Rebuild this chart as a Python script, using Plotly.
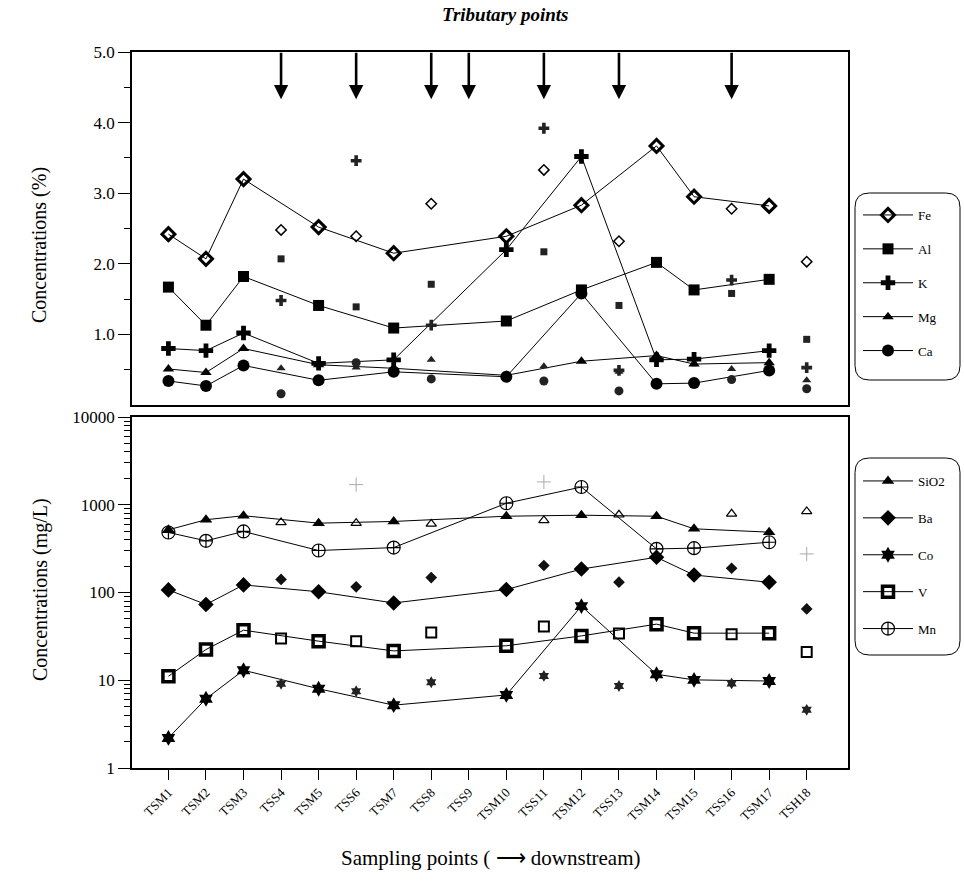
import plotly.graph_objects as go

# ---------------- data ----------------
categories = ["TSM1", "TSM2", "TSM3", "TSS4", "TSM5", "TSS6", "TSM7", "TSS8", "TSS9",
              "TSM10", "TSS11", "TSM12", "TSS13", "TSM14", "TSM15", "TSS16", "TSM17", "TSH18"]
main_points = ["TSM1", "TSM2", "TSM3", "TSM5", "TSM7", "TSM10", "TSM12", "TSM14", "TSM15", "TSM17"]
tributary_arrows = ["TSS4", "TSS6", "TSS8", "TSS9", "TSS11", "TSS13", "TSS16"]

# major elements (%)
Fe = [2.42, 2.07, 3.20, 2.48, 2.52, 2.39, 2.15, 2.85, None, 2.39, 3.33, 2.83, 2.32, 3.67, 2.95, 2.78, 2.82, 2.03]
Al = [1.67, 1.13, 1.82, 2.07, 1.41, 1.39, 1.09, 1.71, None, 1.19, 2.17, 1.63, 1.41, 2.02, 1.63, 1.58, 1.78, 0.93]
K = [0.80, 0.77, 1.02, 1.48, 0.59, 3.46, 0.64, 1.13, None, 2.20, 3.92, 3.52, 0.49, 0.64, 0.65, 1.77, 0.77, 0.53]
Mg = [0.51, 0.46, 0.80, 0.52, 0.57, 0.53, 0.52, 0.64, None, 0.42, 0.55, 0.62, 0.47, 0.70, 0.58, 0.51, 0.60, 0.35]
Ca = [0.34, 0.27, 0.56, 0.16, 0.35, 0.60, 0.47, 0.37, None, 0.40, 0.34, 1.58, 0.20, 0.30, 0.31, 0.36, 0.49, 0.23]

# trace elements (mg/L)
SiO2 = [518, 675, 750, 629, 617, 617, 645, 605, None, 740, 662, 760, 769, 740, 532, 789, 487, 840]
Ba = [107, 73, 122, 141, 102, 116, 76, 148, None, 108, 203, 185, 131, 252, 158, 189, 131, 65]
Co = [2.2, 6.15, 13.0, 9.1, 8.0, 7.5, 5.2, 9.5, None, 6.8, 11.2, 70, 8.6, 11.7, 10.1, 9.2, 9.8, 4.6]
V = [11.1, 22.4, 37.2, 29.9, 27.9, 27.9, 21.6, 35, None, 24.7, 41, 32, 34, 43.6, 34.4, 33.5, 34.4, 21]
Mn = [483, 388, 496, None, 301, 1695, 325, None, None, 1040, 1820, 1593, None, 314, 320, None, 374, 275]

SERIF = "Liberation Serif"
fig = go.Figure()


def split(vals):
    mx, my, tx, ty = [], [], [], []
    for c, v in zip(categories, vals):
        if v is None:
            continue
        if c in main_points:
            mx.append(c); my.append(v)
        else:
            tx.append(c); ty.append(v)
    return mx, my, tx, ty


def add_series(name, vals, axes, legend, msym, msize, mline, tsym, tsize, tline, tcolor="black"):
    xa, ya = axes
    mx, my, tx, ty = split(vals)
    fig.add_trace(go.Scatter(
        x=mx, y=my, name=name, mode="lines+markers", xaxis=xa, yaxis=ya,
        line=dict(color="black", width=1),
        marker=dict(symbol=msym, size=msize, color="black",
                    line=dict(color="black", width=mline)),
        legend=legend, legendgroup=name, showlegend=True))
    fig.add_trace(go.Scatter(
        x=tx, y=ty, name=name, mode="markers", xaxis=xa, yaxis=ya,
        marker=dict(symbol=tsym, size=tsize, color=tcolor,
                    line=dict(color=tcolor, width=tline)),
        legend=legend, legendgroup=name, showlegend=False))


top = ("x", "y")
bot = ("x2", "y2")
add_series("Fe", Fe, top, "legend", "diamond-open", 10, 3, "diamond-open", 8, 1.5)
add_series("Al", Al, top, "legend", "square", 11, 0, "square", 7, 0, "#222222")
add_series("K", K, top, "legend", "cross", 12, 0, "cross", 9, 0, "#222222")
add_series("Mg", Mg, top, "legend", "triangle-up", 10, 0, "triangle-up", 8, 0, "#222222")
add_series("Ca", Ca, top, "legend", "circle", 12, 0, "circle", 9, 0, "#222222")

add_series("SiO2", SiO2, bot, "legend2", "triangle-up", 11, 0, "triangle-up-open", 9, 1.2)
add_series("Ba", Ba, bot, "legend2", "diamond", 12, 0, "diamond", 9, 0, "#111111")
add_series("Co", Co, bot, "legend2", "hexagram", 12, 0, "hexagram", 9, 0, "#222222")
add_series("V", V, bot, "legend2", "square-open", 11, 3.5, "square-open", 10, 2)
add_series("Mn", Mn, bot, "legend2", "circle-cross-open", 13, 1.2, "cross-thin-open", 10, 1, "#aaaaaa")

# ---------------- layout ----------------
W, H = 964, 887
L, R, T, B = 132, 116, 52, 119
PW, PH = W - L - R, H - T - B


def py(px_y):
    return (H - B - px_y) / PH


def px(px_x):
    return (px_x - L) / PW


log_minor = [m * 10 ** d for d in range(4) for m in range(2, 10)]

xcommon = dict(type="category", categoryorder="array", categoryarray=categories,
               range=[-0.97, 18.1], showgrid=False, zeroline=False,
               showline=True, linecolor="black", linewidth=1.5, mirror=True)

fig.update_layout(
    width=W, height=H, margin=dict(l=L, r=R, t=T, b=B),
    paper_bgcolor="white", plot_bgcolor="white",
    font=dict(family=SERIF, color="black"),
    xaxis=dict(**xcommon, domain=[0, 1], anchor="y", showticklabels=False, ticks=""),
    yaxis=dict(domain=[py(405), 1], anchor="x", range=[0, 5], showgrid=False, zeroline=False,
               showline=True, linecolor="black", linewidth=1.5, mirror=True,
               tickmode="array", tickvals=[1, 2, 3, 4, 5],
               ticktext=["1.0", "2.0", "3.0", "4.0", "5.0"],
               ticks="outside", ticklen=12, tickwidth=1.2, tickcolor="black",
               minor=dict(tickmode="array", tickvals=[0.5, 1.5, 2.5, 3.5, 4.5],
                          ticks="outside", ticklen=6, tickcolor="black"),
               tickfont=dict(family=SERIF, size=17, color="black")),
    xaxis2=dict(**xcommon, domain=[0, 1], anchor="y2", ticks="outside", ticklen=10,
                tickwidth=1.2, tickcolor="black", tickangle=-45,
                tickfont=dict(family=SERIF, size=13, color="black")),
    yaxis2=dict(domain=[0, py(417)], anchor="x2", type="log", range=[0, 4],
                showgrid=False, zeroline=False,
                showline=True, linecolor="black", linewidth=1.5, mirror=True,
                tickmode="array", tickvals=[1, 10, 100, 1000, 10000],
                ticktext=["1", "10", "100", "1000", "10000"],
                ticks="outside", ticklen=12, tickwidth=1.2, tickcolor="black",
                minor=dict(tickmode="array", tickvals=log_minor, ticks="outside",
                           ticklen=6, tickcolor="black", showgrid=False),
                tickfont=dict(family=SERIF, size=17, color="black")),
    legend=dict(x=px(858), y=py(200), xanchor="left", yanchor="top",
                bgcolor="rgba(0,0,0,0)", borderwidth=0, tracegroupgap=14,
                itemwidth=50, font=dict(family=SERIF, size=13, color="black")),
    legend2=dict(x=px(858), y=py(466), xanchor="left", yanchor="top",
                 bgcolor="rgba(0,0,0,0)", borderwidth=0, tracegroupgap=17,
                 itemwidth=50, font=dict(family=SERIF, size=13, color="black")),
)


def rounded_box(x0, y0, x1, y1, r=0.02):
    return (f"M {x0 + r},{y0} L {x1 - r},{y0} Q {x1},{y0} {x1},{y0 + r} "
            f"L {x1},{y1 - r} Q {x1},{y1} {x1 - r},{y1} L {x0 + r},{y1} "
            f"Q {x0},{y1} {x0},{y1 - r} L {x0},{y0 + r} Q {x0},{y0} {x0 + r},{y0} Z")


fig.add_shape(type="path", xref="paper", yref="paper",
              path=rounded_box(px(855), py(380), px(960), py(193)),
              line=dict(color="black", width=1))
fig.add_shape(type="path", xref="paper", yref="paper",
              path=rounded_box(px(855), py(655), px(960), py(458)),
              line=dict(color="black", width=1))

# tributary arrows
for c in tributary_arrows:
    fig.add_annotation(x=c, y=4.33, xref="x", yref="y", text="", showarrow=True,
                       ax=0, ay=-48, arrowhead=2, arrowsize=1.1, arrowwidth=2.6,
                       arrowcolor="black")

fig.add_annotation(text="<b><i>Tributary points</i></b>", xref="paper", yref="paper",
                   x=px(505), y=py(15), showarrow=False, xanchor="center", yanchor="middle",
                   font=dict(family=SERIF, size=19, color="black"))
fig.add_annotation(text="Concentrations (%)", xref="paper", yref="paper",
                   x=px(40), y=py(245), textangle=-90, showarrow=False,
                   xanchor="center", yanchor="middle",
                   font=dict(family=SERIF, size=20, color="black"))
fig.add_annotation(text="Concentrations (mg/L)", xref="paper", yref="paper",
                   x=px(40), y=py(590), textangle=-90, showarrow=False,
                   xanchor="center", yanchor="middle",
                   font=dict(family=SERIF, size=20, color="black"))
fig.add_annotation(text="Sampling points ( \u27f6 downstream)", xref="paper", yref="paper",
                   x=px(490), y=py(858), showarrow=False, xanchor="center", yanchor="middle",
                   font=dict(family=SERIF, size=21, color="black"))

fig.write_html("out.html")
